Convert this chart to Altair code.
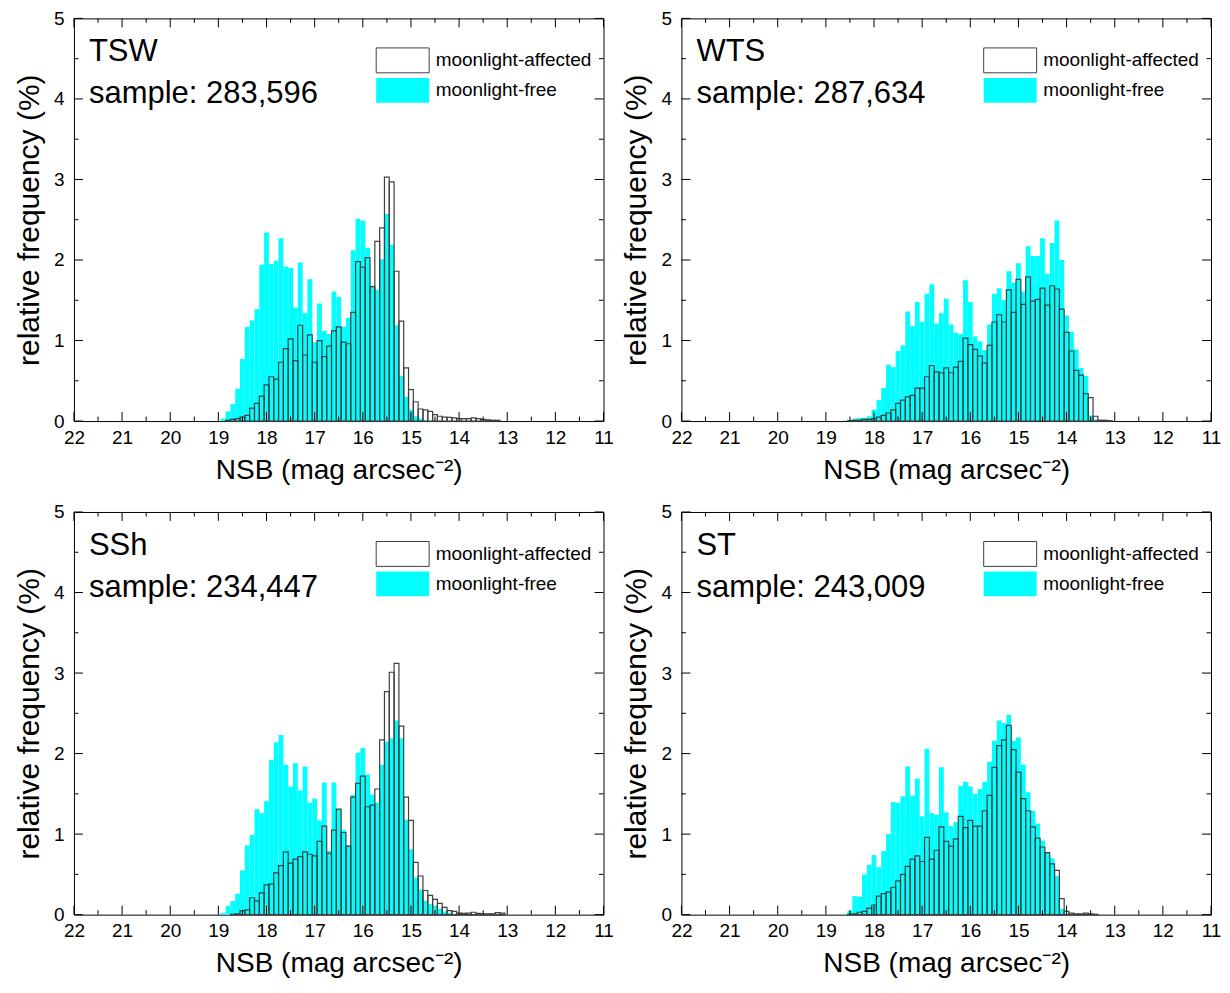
import altair as alt
import pandas as pd

# bin centres (mag arcsec^-2), 0.1 mag wide, from 19.0 down to 13.0
NSB_CENTERS = [round(19.0 - 0.1 * i, 1) for i in range(61)]

SERIES = ["moonlight-affected", "moonlight-free"]
X_TICKS = [22, 21, 20, 19, 18, 17, 16, 15, 14, 13, 12, 11]
X_MINOR = [21.5, 20.5, 19.5, 18.5, 17.5, 16.5, 15.5, 14.5, 13.5, 12.5, 11.5]
Y_TICKS = [0, 1, 2, 3, 4, 5]
Y_MINOR = [0.5, 1.5, 2.5, 3.5, 4.5]

SITES = ["TSW", "WTS", "SSh", "ST"]
SAMPLES = ["283,596", "287,634", "234,447", "243,009"]

TSW_FREE = [
    0.00, 0.03, 0.12, 0.21, 0.40, 0.77, 1.17, 1.25, 1.39, 1.94,
    2.34, 1.95, 1.99, 2.27, 1.92, 1.90, 1.41, 1.97, 1.34, 1.76,
    0.98, 1.46, 1.12, 1.08, 1.61, 1.54, 1.17, 1.28, 2.12, 2.51,
    2.49, 2.15, 1.68, 1.63, 2.01, 2.57, 2.19, 1.19, 0.56, 0.30,
    0.14, 0.06, 0.03, 0.01, 0, 0, 0, 0, 0, 0,
    0, 0, 0, 0, 0, 0, 0, 0, 0, 0,
    0]
TSW_AFF = [
    0, 0, 0.01, 0.02, 0.03, 0.05, 0.07, 0.16, 0.22, 0.31,
    0.45, 0.55, 0.52, 0.73, 0.90, 1.02, 0.75, 1.19, 0.82, 1.07,
    0.73, 1.00, 0.80, 0.93, 1.12, 1.17, 0.98, 0.96, 1.35, 1.98,
    1.91, 2.03, 1.67, 2.23, 2.40, 3.03, 2.97, 1.86, 1.24, 0.66,
    0.39, 0.24, 0.15, 0.14, 0.12, 0.08, 0.06, 0.05, 0.045, 0.04,
    0.03, 0.03, 0.03, 0.04, 0.03, 0.02, 0.015, 0.01, 0.01, 0,
    0]

WTS_FREE = [
    0, 0, 0, 0, 0.005, 0.01, 0.03, 0.04, 0.04, 0.06,
    0.14, 0.26, 0.41, 0.70, 0.67, 0.87, 0.94, 1.36, 1.18, 1.48,
    1.23, 1.58, 1.70, 1.21, 1.34, 1.52, 1.20, 1.10, 1.08, 1.75,
    1.48, 1.05, 0.99, 0.88, 1.20, 1.58, 1.65, 1.50, 1.86, 1.72,
    1.96, 1.61, 2.17, 2.05, 2.05, 2.27, 1.83, 2.21, 2.49, 2.00,
    1.31, 1.11, 0.89, 0.66, 0.56, 0.07, 0.02, 0.01, 0, 0,
    0]
WTS_AFF = [
    0, 0, 0, 0, 0, 0.005, 0.01, 0.01, 0.02, 0.02,
    0.03, 0.05, 0.07, 0.10, 0.14, 0.22, 0.26, 0.30, 0.32, 0.41,
    0.41, 0.55, 0.69, 0.61, 0.60, 0.66, 0.60, 0.67, 0.74, 1.03,
    0.95, 0.89, 0.81, 0.72, 0.94, 1.23, 1.32, 1.23, 1.63, 1.35,
    1.76, 1.45, 1.79, 1.49, 1.51, 1.65, 1.44, 1.68, 1.64, 1.39,
    1.10, 0.87, 0.63, 0.57, 0.34, 0.29, 0.06, 0.01, 0.01, 0.005,
    0]

SSH_FREE = [
    0, 0.02, 0.11, 0.17, 0.26, 0.55, 0.86, 0.99, 1.31, 1.26,
    1.41, 1.92, 2.14, 2.23, 1.86, 1.59, 1.88, 1.54, 1.84, 1.39,
    1.44, 1.17, 1.64, 0.79, 1.64, 1.31, 1.05, 0.86, 1.49, 2.01,
    2.07, 1.74, 1.49, 1.39, 1.86, 2.15, 2.19, 2.41, 2.19, 1.18,
    0.81, 0.46, 0.31, 0.17, 0.13, 0.11, 0.07, 0.04, 0.02, 0.01,
    0, 0, 0, 0, 0, 0, 0, 0, 0, 0,
    0]
SSH_AFF = [
    0, 0, 0, 0.005, 0.01, 0.05, 0.06, 0.21, 0.17, 0.27,
    0.37, 0.38, 0.52, 0.61, 0.78, 0.64, 0.69, 0.72, 0.78, 0.75,
    0.73, 0.91, 1.10, 0.76, 1.05, 1.31, 1.02, 0.85, 1.46, 1.63,
    1.72, 1.34, 1.36, 1.56, 2.17, 2.77, 3.01, 3.12, 2.34, 1.46,
    1.17, 0.65, 0.48, 0.30, 0.24, 0.19, 0.14, 0.09, 0.05, 0.04,
    0.02, 0.015, 0.02, 0.03, 0.015, 0.01, 0.01, 0.01, 0.025, 0.02,
    0]

ST_FREE = [
    0, 0, 0, 0, 0.01, 0.05, 0.23, 0.22, 0.50, 0.62,
    0.74, 0.59, 0.79, 1.00, 1.40, 1.39, 1.47, 1.84, 1.48, 1.69,
    1.22, 2.06, 1.26, 1.24, 1.83, 1.27, 1.10, 1.15, 1.60, 1.65,
    1.59, 1.50, 1.56, 1.65, 1.90, 2.16, 2.41, 2.38, 2.48, 2.16,
    2.20, 1.86, 1.52, 1.29, 1.13, 0.92, 0.77, 0.70, 0.48, 0.07,
    0.01, 0, 0, 0, 0, 0, 0, 0, 0, 0,
    0]
ST_AFF = [
    0, 0, 0, 0, 0, 0.005, 0.01, 0.03, 0.04, 0.08,
    0.12, 0.23, 0.26, 0.28, 0.34, 0.42, 0.50, 0.60, 0.69, 0.73,
    0.66, 0.96, 0.69, 0.80, 1.09, 0.91, 0.85, 0.94, 1.22, 1.08,
    1.17, 1.10, 1.10, 1.29, 1.48, 1.83, 2.10, 2.17, 2.35, 2.05,
    1.77, 1.44, 1.29, 1.09, 0.95, 0.84, 0.77, 0.63, 0.55, 0.20,
    0.04, 0.02, 0.01, 0.01, 0.02, 0.01, 0.005, 0, 0, 0,
    0]

FREE = [TSW_FREE, WTS_FREE, SSH_FREE, ST_FREE]
AFF = [TSW_AFF, WTS_AFF, SSH_AFF, ST_AFF]

W, H = 530, 403
FONT = "Liberation Sans"
CYAN = "#00FFFF"
EDGE = "#404040"

X_AXIS = alt.Axis(
    values=X_TICKS, format="d", ticks=False, domain=False, grid=False,
    labelFlush=False, labelOverlap=False, labelFontSize=19, labelPadding=7,
    labelFont=FONT, labelColor="black",
    title="NSB (mag arcsec\u207b\u00b2)", titleFontSize=28, titleFont=FONT,
    titleFontWeight="normal", titleColor="black", titlePadding=9)
Y_AXIS = alt.Axis(
    values=Y_TICKS, format="d", ticks=False, domain=False, grid=False,
    labelFlush=False, labelOverlap=False, labelFontSize=19, labelPadding=10,
    labelFont=FONT, labelColor="black",
    title="relative frequency (%)", titleFontSize=30, titleFont=FONT,
    titleFontWeight="normal", titleColor="black", titlePadding=9)


def panel(name, sample, free, aff):
    rows = []
    for c, v in zip(NSB_CENTERS, free):
        if v > 0:
            rows.append({"lo": c + 0.05, "hi": c - 0.05, "f": v, "series": SERIES[1]})
    for c, v in zip(NSB_CENTERS, aff):
        if v > 0:
            rows.append({"lo": c + 0.05, "hi": c - 0.05, "f": v, "series": SERIES[0]})
    df = pd.DataFrame(rows)

    xs = alt.Scale(domain=[11, 22], reverse=True, nice=False, zero=False)
    ys = alt.Scale(domain=[0, 5], nice=False)

    leg = alt.Legend(
        title=None, orient="none", legendX=315, legendY=28,
        symbolType="M-2,-0.94L2,-0.94L2,0.94L-2,0.94Z", symbolSize=702,
        symbolStrokeWidth=1, labelFontSize=19, labelFont=FONT, labelColor="black",
        labelOffset=19, rowPadding=0, padding=0,
    )

    bars = alt.Chart(df).mark_bar(strokeWidth=1.2).encode(
        x=alt.X("lo:Q", scale=xs, axis=X_AXIS),
        x2="hi:Q",
        y=alt.Y("f:Q", scale=ys, stack=None, axis=Y_AXIS),
        y2=alt.datum(0),
        fill=alt.Fill("series:N", scale=alt.Scale(domain=SERIES, range=["rgba(255,255,255,0)", CYAN]), legend=leg),
        stroke=alt.Stroke("series:N", scale=alt.Scale(domain=SERIES, range=[EDGE, "rgba(0,0,0,0)"]), legend=leg),
    )

    xmaj = alt.Chart(pd.DataFrame({"v": X_TICKS}))
    xmin = alt.Chart(pd.DataFrame({"v": X_MINOR}))
    ymaj = alt.Chart(pd.DataFrame({"v": Y_TICKS}))
    ymin = alt.Chart(pd.DataFrame({"v": Y_MINOR}))
    xv = alt.X("v:Q", scale=xs, axis=X_AXIS)
    yv = alt.Y("v:Q", scale=ys, axis=Y_AXIS)
    tk = dict(color="black", strokeWidth=1)
    ticks = [
        xmaj.mark_rule(**tk).encode(x=xv, y=alt.value(H), y2=alt.value(H - 9)),
        xmaj.mark_rule(**tk).encode(x=xv, y=alt.value(0), y2=alt.value(9)),
        xmin.mark_rule(**tk).encode(x=xv, y=alt.value(H), y2=alt.value(H - 4.5)),
        xmin.mark_rule(**tk).encode(x=xv, y=alt.value(0), y2=alt.value(4.5)),
        ymaj.mark_rule(**tk).encode(y=yv, x=alt.value(0), x2=alt.value(9)),
        ymaj.mark_rule(**tk).encode(y=yv, x=alt.value(W), x2=alt.value(W - 9)),
        ymin.mark_rule(**tk).encode(y=yv, x=alt.value(0), x2=alt.value(4.5)),
        ymin.mark_rule(**tk).encode(y=yv, x=alt.value(W), x2=alt.value(W - 4.5)),
    ]

    one = alt.Chart(pd.DataFrame({"k": [0]}))
    t1 = one.mark_text(align="left", baseline="middle", fontSize=31, font=FONT, color="black").encode(
        text=alt.value(name), x=alt.value(15), y=alt.value(34))
    t2 = one.mark_text(align="left", baseline="middle", fontSize=31, font=FONT, color="black").encode(
        text=alt.value("sample: " + sample), x=alt.value(15), y=alt.value(76))

    return alt.layer(bars, *ticks, t1, t2).properties(width=W, height=H)


panels = [panel(SITES[i], SAMPLES[i], FREE[i], AFF[i]) for i in range(4)]

chart = alt.concat(
    *panels, columns=2, spacing={"row": 17, "column": 6}
).resolve_scale(
    fill="independent", stroke="independent"
).resolve_legend(
    fill="independent", stroke="independent"
).properties(
    padding={"left": 5, "top": 0, "right": 0, "bottom": 0}
).configure(font=FONT).configure_view(stroke="black", strokeWidth=1)

chart.save("out.html", embed_options={"renderer": "svg", "actions": False})
